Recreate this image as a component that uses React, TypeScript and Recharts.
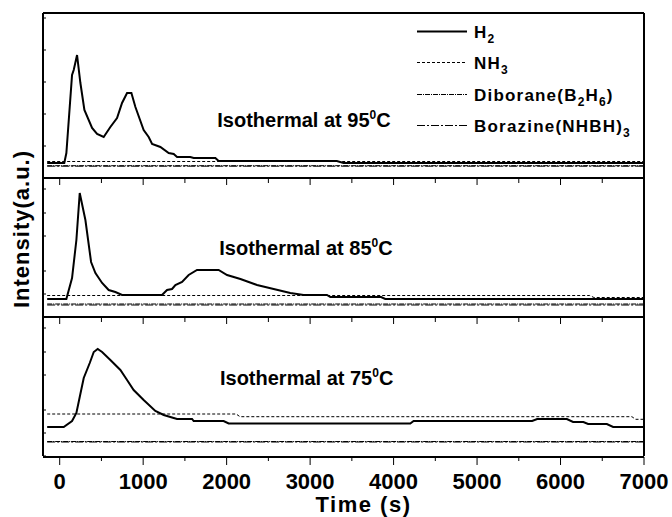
import { LineChart, Line, XAxis, YAxis, Legend, ReferenceDot } from 'recharts';

const FONT = "'Liberation Sans', Arial, Helvetica, sans-serif";

// x axis (time, s)
const timeDomain = [-200, 7000];
const majorTicks = [0, 1000, 2000, 3000, 4000, 5000, 6000, 7000];
const minorTicks = [500, 1500, 2500, 3500, 4500, 5500, 6500];

// isothermal at 95 C
const h2Time95 = [-150, 55, 80, 148, 168, 208, 248, 296, 388, 448, 527, 607, 687, 747, 807, 859, 907, 1006, 1066, 1107, 1206, 1306, 1366, 1406, 1565, 1605, 1865, 1904, 3320, 3400, 7000];
const h2Val95 = [15, 15, 25, 103, 108, 123, 95, 68, 50, 44, 41, 51, 60, 75, 85, 85, 71, 48, 41, 34, 31, 25, 24, 21, 21, 20, 20, 17, 17, 15, 15];
const nh3Time95 = [-150, 7000];
const nh3Val95 = [16.5, 16.5];
const b2h6Val95 = [12.3, 12.3];
const borVal95 = [11.8, 11.8];

// isothermal at 85 C
const h2Time85 = [-150, 80, 148, 200, 240, 308, 376, 428, 508, 587, 667, 747, 1226, 1286, 1346, 1386, 1466, 1545, 1645, 1904, 2005, 2165, 2364, 2563, 2763, 2922, 3202, 3242, 3850, 3900, 7000];
const h2Val85 = [18, 18, 39, 77, 124, 97, 55, 44, 34, 27, 25, 22, 22, 27, 28, 32, 35, 42, 47, 47, 42, 38, 32, 28, 24, 22, 22, 20, 20, 18, 18];
const nh3Time85 = [-150, 6350, 6400, 7000];
const nh3Val85 = [21.5, 21.5, 19.5, 19.5];
const b2h6Val85 = [13, 13];
const borVal85 = [12, 12];

// isothermal at 75 C
const h2Time75 = [-150, 48, 148, 200, 240, 288, 360, 408, 455, 508, 607, 727, 807, 886, 1006, 1146, 1246, 1366, 1406, 1586, 1605, 1964, 2024, 4200, 4240, 5660, 5720, 6076, 6150, 6274, 6330, 6555, 6630, 7000];
const h2Val75 = [29, 29, 35, 43, 59, 78, 93, 104, 107, 104, 96, 86, 76, 66, 56, 45, 41, 38, 37, 37, 35, 35, 32.5, 32.5, 35, 35, 37, 37, 34, 34, 32, 32, 29, 29];
const nh3Time75 = [-150, 2114, 2160, 6855, 6900, 7000];
const nh3Val75 = [42, 42, 39.3, 39.3, 36.7, 36.7];
const b2h6Val75 = [14.5, 14.5];
const borVal75 = [14, 14];

const flatTime = [-150, 7000];

// y scale (a.u.) per panel and its small inside ticks
const yMax = [165, 139, 139];
const yTicksTop = [0, 11, 21, 32, 43, 53, 64, 75, 85, 96, 107, 117, 128, 139, 149, 160];
const yTicksLow = [0, 12, 23, 35, 46, 58, 70, 81, 93, 104, 116, 128];

const temps = ['95', '85', '75'];
// where each "Isothermal at ..." note starts (time, intensity)
const noteTime = [1888, 1912, 1920];
const noteLevel = [51, 62, 71];

const pairs = (times: number[], vals: number[], key: string) =>
  times.map((t, i) => ({ t, [key]: vals[i] }));

const panelSeries = [
  {
    h2: pairs(h2Time95, h2Val95, 'h2'),
    nh3: pairs(nh3Time95, nh3Val95, 'nh3'),
    b2h6: pairs(flatTime, b2h6Val95, 'b2h6'),
    bor: pairs(flatTime, borVal95, 'bor'),
  },
  {
    h2: pairs(h2Time85, h2Val85, 'h2'),
    nh3: pairs(nh3Time85, nh3Val85, 'nh3'),
    b2h6: pairs(flatTime, b2h6Val85, 'b2h6'),
    bor: pairs(flatTime, borVal85, 'bor'),
  },
  {
    h2: pairs(h2Time75, h2Val75, 'h2'),
    nh3: pairs(nh3Time75, nh3Val75, 'nh3'),
    b2h6: pairs(flatTime, b2h6Val75, 'b2h6'),
    bor: pairs(flatTime, borVal75, 'bor'),
  },
];

const seriesDefs = [
  { key: 'h2', name: 'H2', width: 2, dash: undefined },
  { key: 'nh3', name: 'NH3', width: 1, dash: '3 2' },
  { key: 'b2h6', name: 'Diborane(B2H6)', width: 1, dash: '5 1 1 1' },
  { key: 'bor', name: 'Borazine(NHBH)3', width: 1, dash: '8 2 2 2' },
];

const Sub = ({ children }: { children: any }) => (
  <span style={{ fontSize: 12, position: 'relative', top: 5 }}>{children}</span>
);

const legendText: Record<string, any> = {
  H2: <>H<Sub>2</Sub></>,
  NH3: <>NH<Sub>3</Sub></>,
  'Diborane(B2H6)': <>Diborane(B<Sub>2</Sub>H<Sub>6</Sub>)</>,
  'Borazine(NHBH)3': <>Borazine(NHBH)<Sub>3</Sub></>,
};

// keeps the series order of the original figure (recharts sorts by name)
function LegendBox() {
  return (
    <div style={{ fontFamily: FONT }}>
      {seriesDefs.map((def) => (
        <div key={def.key} style={{ position: 'relative', height: 31.4, width: 210 }}>
          <svg width={50} height={31} style={{ position: 'absolute', left: 0, top: 0 }}>
            <line x1={0} x2={50} y1={14.5} y2={14.5} stroke="#000" strokeWidth={def.width} strokeDasharray={def.dash} />
          </svg>
          <span
            style={{
              position: 'absolute', left: 57, top: 0, lineHeight: '32px', fontSize: 17,
              fontWeight: 'bold', letterSpacing: 1.2, whiteSpace: 'nowrap', color: '#000',
            }}
          >
            {legendText[def.name]}
          </span>
        </div>
      ))}
    </div>
  );
}

const noteLabel = (temp: string) => (props: any) => {
  const vb = props.viewBox || {};
  return (
    <text x={vb.x} y={vb.y} fontSize={20} fontWeight="bold" fill="#000" fontFamily={FONT}>
      Isothermal at {temp}
      <tspan dy={-8} fontSize={12}>0</tspan>
      <tspan dy={8}>C</tspan>
    </text>
  );
};

// tick marks only, no text
const noText = () => <g />;

const layout = [
  { top: 0, height: 182, mTop: 13, mBottom: 3 },
  { top: 174, height: 147, mTop: 4, mBottom: 3 },
  { top: 313, height: 204, mTop: 4, mBottom: 0 },
];

const tickStyle = { fontSize: 22, fontWeight: 'bold', fill: '#000', fontFamily: FONT };
const frame = { stroke: '#000', strokeWidth: 2 };
const thin = { stroke: '#000', strokeWidth: 1 };

function Panel({ idx }: { idx: number }) {
  const box = layout[idx];
  const series = panelSeries[idx];
  const isFirst = idx === 0;
  const isLast = idx === 2;
  return (
    <div style={{ position: 'absolute', left: 0, top: box.top }}>
      <LineChart width={672} height={box.height} margin={{ top: box.mTop, bottom: box.mBottom, left: 43, right: 27 }}>
        <XAxis
          xAxisId="topMajor" orientation="top" mirror type="number" dataKey="t" domain={timeDomain} allowDataOverflow
          ticks={majorTicks} height={1} tick={noText} axisLine={frame}
          tickLine={isFirst ? false : thin} tickSize={7}
        />
        <XAxis
          xAxisId="topMinor" orientation="top" mirror type="number" dataKey="t" domain={timeDomain} allowDataOverflow
          ticks={minorTicks} height={1} tick={noText} axisLine={false}
          tickLine={isFirst ? false : thin} tickSize={4}
        />
        {isLast && (
          <XAxis
            xAxisId="bottomMinor" type="number" dataKey="t" domain={timeDomain} allowDataOverflow
            ticks={minorTicks} height={1} tick={noText} axisLine={false} tickLine={thin} tickSize={5}
          />
        )}
        <XAxis
          xAxisId="main" type="number" dataKey="t" domain={timeDomain} allowDataOverflow ticks={majorTicks}
          height={isLast ? 60 : 1} tick={isLast ? tickStyle : false}
          tickLine={isLast ? thin : false} tickSize={8} tickMargin={8} axisLine={frame}
          label={isLast ? {
            value: 'Time (s)', position: 'insideBottom', offset: 5, dx: 20,
            style: { fontSize: 22, fontWeight: 'bold', fill: '#000', fontFamily: FONT, letterSpacing: 1.5 },
          } : undefined}
        />
        <YAxis
          mirror type="number" domain={[0, yMax[idx]]} allowDataOverflow width={1}
          ticks={isFirst ? yTicksTop : yTicksLow} tick={noText} tickLine={thin} tickSize={3} axisLine={frame}
        />
        <YAxis
          yAxisId="right" orientation="right" type="number" domain={[0, yMax[idx]]} allowDataOverflow width={1}
          tick={false} tickLine={false} axisLine={frame}
        />
        {seriesDefs.map((s) => (
          <Line
            key={s.key}
            xAxisId="main"
            data={(series as any)[s.key]}
            dataKey={s.key}
            name={s.name}
            type="linear"
            stroke="#000"
            strokeWidth={s.width}
            strokeDasharray={s.dash}
            dot={false}
            activeDot={false}
            isAnimationActive={false}
          />
        ))}
        <ReferenceDot
          xAxisId="main" x={noteTime[idx]} y={noteLevel[idx]} r={0} fill="none" stroke="none"
          label={noteLabel(temps[idx])}
        />
        {isFirst && (
          <Legend
            layout="vertical" align="center" verticalAlign="middle"
            wrapperStyle={{ top: 17, left: 417, width: 220 }}
            content={<LegendBox />}
          />
        )}
      </LineChart>
    </div>
  );
}

export default function App() {
  return (
    <div style={{ position: 'absolute', left: 0, top: 0, width: 672, height: 517, background: '#fff', fontFamily: FONT }}>
      {[0, 1, 2].map((i) => (
        <Panel key={i} idx={i} />
      ))}
      <div
        style={{
          position: 'absolute', left: 22, top: 229, transform: 'translate(-50%, -50%) rotate(-90deg)',
          fontSize: 22, fontWeight: 'bold', letterSpacing: 1, whiteSpace: 'nowrap', color: '#000',
        }}
      >
        Intensity(a.u.)
      </div>
    </div>
  );
}
